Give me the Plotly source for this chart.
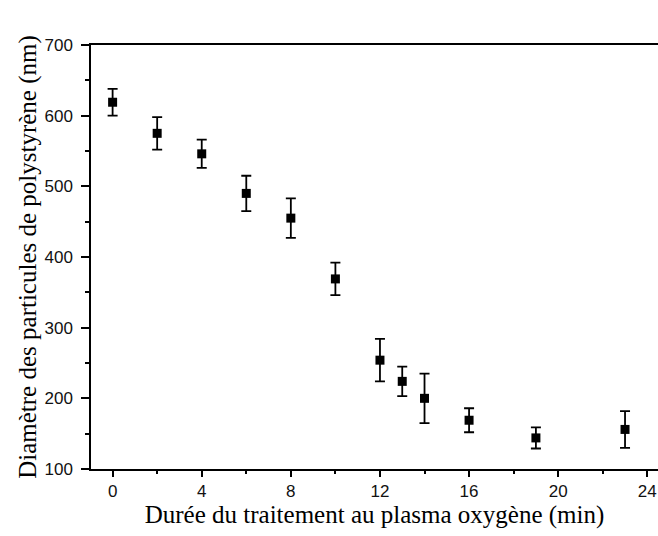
import plotly.graph_objects as go

time_min = [0, 2, 4, 6, 8, 10, 12, 13, 14, 16, 19, 23]
diameter_nm = [619, 575, 546, 490, 455, 369, 254, 224, 200, 169, 144, 156]
error_nm = [19, 23, 20, 25, 28, 23, 30, 21, 35, 17, 15, 26]
x_ticks = [0, 4, 8, 12, 16, 20, 24]
y_ticks = [100, 200, 300, 400, 500, 600, 700]

fig = go.Figure()
fig.add_trace(go.Scatter(
    x=time_min, y=diameter_nm, mode="markers",
    marker=dict(symbol="square", size=9, color="black"),
    error_y=dict(type="data", array=error_nm, visible=True,
                 color="black", thickness=1.8, width=5),
    showlegend=False,
))

tick_font = dict(family="Liberation Sans, Arial", size=17, color="#111")
title_font = dict(family="Liberation Serif, Times New Roman", size=25, color="black")

fig.update_xaxes(
    range=[-0.97, 24.48], tickvals=x_ticks, ticktext=[str(v) for v in x_ticks],
    ticks="outside", ticklen=6, tickwidth=1.5, tickcolor="black",
    minor=dict(dtick=2, tick0=0, ticks="outside", ticklen=3, tickwidth=1.5, tickcolor="black"),
    showline=True, linecolor="black", linewidth=1.5, mirror=True,
    showgrid=False, zeroline=False, tickfont=tick_font,
    title=dict(text="Durée du traitement au plasma oxygène (min)", font=title_font, standoff=4),
)
fig.update_yaxes(
    range=[100, 700], tickvals=y_ticks, ticktext=[str(v) for v in y_ticks],
    ticks="outside", ticklen=8, tickwidth=1.5, tickcolor="black",
    ticklabelstandoff=5,
    minor=dict(dtick=50, tick0=0, ticks="outside", ticklen=4, tickwidth=1.5, tickcolor="black"),
    showline=True, linecolor="black", linewidth=1.5, mirror=False,
    showgrid=False, zeroline=False, tickfont=tick_font,
    title=dict(text="Diamètre des particules de polystyrène (nm)", font=title_font, standoff=1),
)

fig.add_shape(type="line", xref="paper", yref="paper", x0=-9/567, x1=0, y0=1, y1=1,
              line=dict(color="black", width=1.5))

fig.update_layout(
    width=658, height=536,
    margin=dict(l=91, r=0, t=45, b=67),
    plot_bgcolor="white", paper_bgcolor="white",
)
fig.write_html("out.html", config={"displayModeBar": False},
               post_script="document.body.style.margin='0';document.body.style.overflow='hidden';")
